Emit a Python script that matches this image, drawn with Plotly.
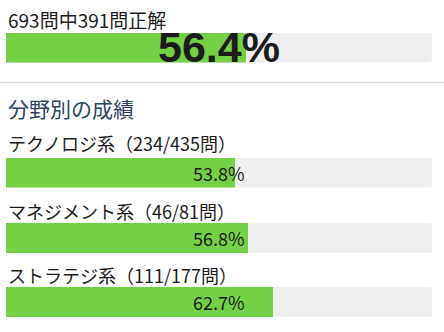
import plotly.graph_objects as go

# ---- data ----
overall_correct = 391
overall_total = 693
categories = ["テクノロジ系", "マネジメント系", "ストラテジ系"]
cat_correct = [234, 46, 111]
cat_total = [435, 81, 177]
section_title = "分野別の成績"

W, H = 444, 332
GREEN = "#74d044"
TRACK = "#efefef"
TEXT = "#1c1c1c"
JP = "Noto Sans CJK JP"

def py(p):
    return 1 - p / H

# pixel layout (top, bottom) for each bar row
rows = [(32.5, 62.5), (158, 187.5), (223, 253), (287, 317)]
label_y = [143, 211, 275]

fig = go.Figure()
names = ["総合"] + categories
pcts = [overall_correct / overall_total * 100] + [c / t * 100 for c, t in zip(cat_correct, cat_total)]

annotations = []
for i, (name, pct) in enumerate(zip(names, pcts)):
    yname = "y" if i == 0 else f"y{i+1}"
    fig.add_trace(go.Bar(x=[100], y=[name], orientation="h", yaxis=yname,
                         marker=dict(color=TRACK, line=dict(width=0)), width=1,
                         hoverinfo="skip", showlegend=False))
    fig.add_trace(go.Bar(x=[pct], y=[name], orientation="h", yaxis=yname,
                         marker=dict(color=GREEN, line=dict(width=0)), width=1,
                         showlegend=False))
    if i == 0:
        annotations.append(dict(x=50, y=name, xref="x", yref=yname,
                                text=f"<b>{pct:.1f}%</b>", showarrow=False,
                                font=dict(family="Liberation Sans, Arial", size=43, color=TEXT),
                                xanchor="center", yanchor="middle", yshift=1))
    else:
        annotations.append(dict(x=50, y=name, xref="x", yref=yname,
                                text=f"{pct:.1f}%", showarrow=False,
                                font=dict(family=JP, size=18, color=TEXT),
                                xanchor="center", yanchor="middle"))

layout_axes = {}
for i, (top, bot) in enumerate(rows):
    key = "yaxis" if i == 0 else f"yaxis{i+1}"
    layout_axes[key] = dict(domain=[py(bot), py(top)], anchor="x", range=[-0.5, 0.5],
                            visible=False, fixedrange=True)

# header text
annotations.append(dict(x=6 / W, y=py(20), xref="paper", yref="paper",
                        text=f"{overall_total}問中{overall_correct}問正解", showarrow=False,
                        font=dict(family=JP, size=19, color=TEXT), xanchor="left", yanchor="middle"))
annotations.append(dict(x=6 / W, y=py(107.5), xref="paper", yref="paper",
                        text=section_title, showarrow=False,
                        font=dict(family=JP, size=21, color="#2b4466"), xanchor="left", yanchor="middle"))
for cat, c, t, ly in zip(categories, cat_correct, cat_total, label_y):
    annotations.append(dict(x=6 / W, y=py(ly), xref="paper", yref="paper",
                            text=f"{cat}（{c}/{t}問）", showarrow=False,
                            font=dict(family=JP, size=18, color=TEXT), xanchor="left", yanchor="middle"))

fig.update_layout(
    width=W, height=H, margin=dict(l=0, r=0, t=0, b=0),
    paper_bgcolor="white", plot_bgcolor="white",
    barmode="overlay", barcornerradius=3, bargap=0,
    xaxis=dict(domain=[6 / W, 432 / W], range=[0, 100], visible=False, fixedrange=True),
    annotations=annotations,
    shapes=[dict(type="line", xref="paper", yref="paper", x0=0, x1=1, y0=py(82.5), y1=py(82.5),
                 line=dict(color="#d9d9d9", width=1.5))],
    **layout_axes,
)

fig.write_html("out.html")
